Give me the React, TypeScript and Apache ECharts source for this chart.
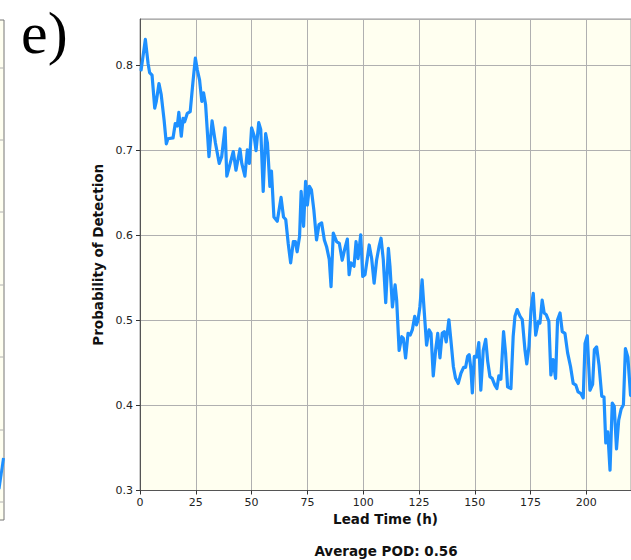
import React, { useEffect, useRef } from "react";
import * as echarts from "echarts";

const leadTime = [
  0.5, 2.4, 3.6, 4.3, 5.4, 6.6, 7.3, 8.5, 9.5, 10.8, 11.8, 12.5, 14.8, 15.8, 16.7, 17.4, 18.5, 19.3, 20, 21.2,
  22.5, 23.7, 24.8, 25.7, 26.7, 27.7, 28.5, 29.4, 30.9, 32.3, 33.8, 35.5, 36.6, 38.1, 38.9, 40, 41.8, 43, 44.8, 45.6,
  47, 48.1, 49, 50, 51.1, 52, 53.2, 54.1, 55.2, 56.3, 57.1, 58.2, 58.9, 60, 61.5, 63.2, 64.3, 65.3, 66.4, 67.5,
  68.7, 69.6, 70.4, 71.5, 72.2, 73.3, 74.2, 75, 75.9, 76.8, 77.9, 79.1, 80.2, 81.4, 82.6, 83.6, 84.8, 85.6, 86.6, 88.1,
  89.3, 90.6, 91.8, 92.9, 93.7, 94.5, 95.9, 96.8, 97.7, 98.9, 99.8, 100.8, 101.8, 102.7, 103.8, 104.9, 106, 107.1, 108, 109,
  110.1, 111.3, 112, 113.1, 114.3, 115, 116.1, 117.3, 118, 119, 120.1, 121.1, 122, 123.1, 123.9, 124.6, 125.4, 126.4, 127.4, 128.4,
  129.5, 130.4, 131.4, 132.5, 133.4, 134.4, 135.4, 136.3, 137.2, 138.4, 139.3, 140.4, 141.4, 142.6, 143.8, 145, 145.9, 146.8, 147.5, 148.3,
  148.9, 149.8, 150.8, 151.8, 152.7, 153.8, 154.9, 155.8, 156.8, 157.8, 159, 159.9, 160.8, 161.7, 162.9, 163.8, 164.7, 166.2, 167.2, 168,
  169, 170.3, 171.3, 172.5, 173.3, 174.3, 175.2, 176.2, 177.3, 178.5, 179.2, 180.2, 181.1, 182, 183.2, 184.1, 185.1, 186.2, 187.1, 188.2,
  189.2, 190.4, 191.6, 192.9, 194.1, 195.3, 196.3, 197.6, 198.6, 199.4, 200.4, 201.6, 202.8, 203.6, 204.6, 205.7, 206.9, 207.9, 208.7, 209.6,
  210.6, 211.6, 212.5, 213.5, 214.5, 215.6, 216.6, 217.5, 218.6, 219.8,
];

const pod = [
  0.795, 0.831, 0.803, 0.792, 0.789, 0.75, 0.758, 0.779, 0.766, 0.736, 0.708, 0.714, 0.715, 0.732, 0.729, 0.745, 0.717, 0.738, 0.734, 0.744,
  0.746, 0.78, 0.809, 0.795, 0.783, 0.758, 0.768, 0.754, 0.693, 0.735, 0.709, 0.685, 0.693, 0.727, 0.67, 0.681, 0.699, 0.677, 0.702, 0.685,
  0.67, 0.701, 0.685, 0.727, 0.718, 0.7, 0.733, 0.725, 0.652, 0.72, 0.709, 0.658, 0.676, 0.622, 0.617, 0.645, 0.622, 0.619, 0.591, 0.568,
  0.593, 0.593, 0.581, 0.599, 0.652, 0.611, 0.664, 0.636, 0.658, 0.654, 0.63, 0.595, 0.613, 0.615, 0.595, 0.587, 0.572, 0.54, 0.603, 0.593,
  0.591, 0.571, 0.585, 0.596, 0.554, 0.568, 0.564, 0.593, 0.573, 0.601, 0.552, 0.554, 0.572, 0.589, 0.573, 0.544, 0.571, 0.587, 0.597, 0.572,
  0.521, 0.585, 0.564, 0.516, 0.542, 0.524, 0.465, 0.481, 0.479, 0.456, 0.485, 0.483, 0.489, 0.505, 0.495, 0.501, 0.516, 0.548, 0.509, 0.471,
  0.489, 0.485, 0.435, 0.466, 0.485, 0.456, 0.485, 0.487, 0.475, 0.501, 0.477, 0.446, 0.432, 0.426, 0.438, 0.445, 0.445, 0.458, 0.46, 0.442,
  0.415, 0.458, 0.457, 0.474, 0.418, 0.465, 0.478, 0.452, 0.434, 0.432, 0.424, 0.42, 0.435, 0.431, 0.487, 0.462, 0.422, 0.42, 0.481, 0.505,
  0.513, 0.505, 0.501, 0.465, 0.449, 0.47, 0.513, 0.532, 0.483, 0.499, 0.497, 0.524, 0.509, 0.507, 0.499, 0.436, 0.454, 0.432, 0.501, 0.509,
  0.487, 0.485, 0.462, 0.446, 0.426, 0.424, 0.416, 0.414, 0.409, 0.473, 0.482, 0.418, 0.425, 0.466, 0.469, 0.447, 0.411, 0.41, 0.356, 0.369,
  0.324, 0.403, 0.399, 0.349, 0.383, 0.396, 0.401, 0.467, 0.457, 0.412,
];

const xTicks = { min: 0, max: 220, interval: 25 };
const yTicks = { min: 0.3, max: 0.855, interval: 0.1 };
const panelLabel = "e)";
const xTitle = "Lead Time (h)";
const yTitle = "Probability of Detection";
const footer = "Average POD: 0.56";
const neighbourGrid = [68, 140, 212, 285, 357, 430, 502];

export default function App() {
  const ref = useRef<HTMLDivElement>(null);
  useEffect(() => {
    if (!ref.current) return;
    const chart = echarts.init(ref.current, null, { renderer: "svg" });
    const font = "DejaVu Sans";
    const graphics: any[] = [
      {
        type: "rect",
        shape: { x: -20, y: 20, width: 24, height: 500 },
        style: { fill: "#fffff0", stroke: "#777", lineWidth: 1 },
        silent: true,
      },
      ...neighbourGrid.map((y) => ({
        type: "line",
        shape: { x1: 0, y1: y, x2: 3.5, y2: y },
        style: { stroke: "#b0b0b0", lineWidth: 1 },
        silent: true,
      })),
      {
        type: "polyline",
        shape: { points: [[-1, 489], [3.5, 458]] },
        style: { stroke: "#1e90ff", lineWidth: 3, fill: null },
        silent: true,
      },
      {
        type: "text",
        x: 21,
        y: 33,
        style: {
          text: panelLabel,
          fontFamily: "Liberation Serif",
          fontSize: 60,
          fill: "#000",
          textAlign: "left",
          textVerticalAlign: "middle",
        },
      },
      {
        type: "text",
        x: 386,
        y: 551,
        style: {
          text: footer,
          fontFamily: font,
          fontWeight: "bold",
          fontSize: 13.5,
          fill: "#111",
          textAlign: "center",
          textVerticalAlign: "middle",
        },
      },
    ];
    chart.setOption({
      animation: false,
      backgroundColor: "#ffffff",
      grid: {
        left: 140,
        top: 19,
        right: -1,
        height: 471.5,
        show: true,
        backgroundColor: "#fffff0",
        borderColor: "#999",
        borderWidth: 1,
      },
      xAxis: {
        type: "value",
        min: xTicks.min,
        max: xTicks.max,
        interval: xTicks.interval,
        name: xTitle,
        nameLocation: "middle",
        nameGap: 21,
        nameTextStyle: { fontFamily: font, fontWeight: "bold", fontSize: 13.5, color: "#111" },
        axisLine: { show: true, lineStyle: { color: "#555", width: 1 } },
        axisTick: { show: true, length: 4, lineStyle: { color: "#333" } },
        axisLabel: { fontFamily: font, fontSize: 11, color: "#222", margin: 6, showMaxLabel: false },
        splitLine: { show: true, lineStyle: { color: "#b0b0b0", width: 1 } },
      },
      yAxis: {
        type: "value",
        min: yTicks.min,
        max: yTicks.max,
        interval: yTicks.interval,
        name: yTitle,
        nameLocation: "middle",
        nameGap: 26,
        nameTextStyle: { fontFamily: font, fontWeight: "bold", fontSize: 13.5, color: "#111" },
        axisLine: { show: true, lineStyle: { color: "#555", width: 1 } },
        axisTick: { show: true, length: 4, lineStyle: { color: "#333" } },
        axisLabel: {
          fontFamily: font,
          fontSize: 11,
          color: "#222",
          margin: 7,
          showMaxLabel: false,
          formatter: (v: number) => v.toFixed(1),
        },
        splitLine: { show: true, lineStyle: { color: "#b0b0b0", width: 1 } },
      },
      graphic: graphics,
      series: [
        {
          type: "line",
          data: leadTime.map((t, i) => [t, pod[i]]),
          showSymbol: false,
          symbol: "none",
          lineStyle: { color: "#1e90ff", width: 3.2, join: "round", cap: "round" },
          clip: true,
        },
      ],
    });
    return () => chart.dispose();
  }, []);
  return (
    <div
      ref={ref}
      style={{ position: "fixed", left: 0, top: 0, width: 631, height: 560 }}
    />
  );
}
